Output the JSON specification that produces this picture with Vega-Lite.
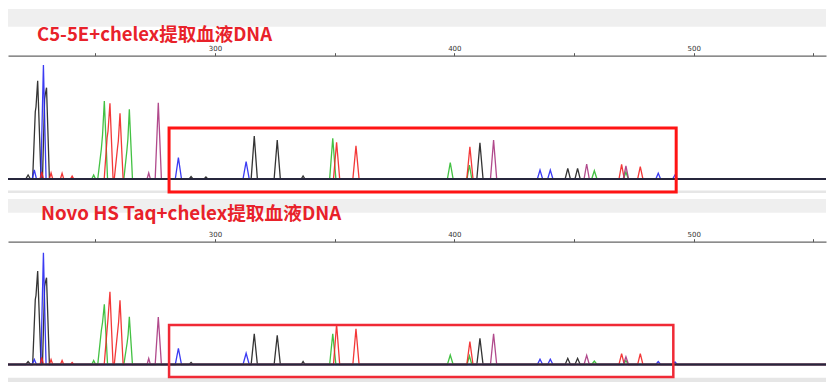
{
"$schema":"https://vega.github.io/schema/vega-lite/v6.json",
"padding":{"left":7,"top":9,"right":8,"bottom":4},
"autosize":{"type":"pad"},
"background":"white",
"spacing":5,
"config":{"view":{"stroke":null},"font":"Noto Sans"},
"datasets":{
"a":[
{"d":"k","x":213.5,"y":0},{"d":"k","x":220.9,"y":0},{"d":"k","x":221.9,"y":200},{"d":"k","x":222.9,"y":0},
{"d":"k","x":223.8,"y":0},{"d":"k","x":224.9,"y":3365},{"d":"k","x":225.2,"y":3600},{"d":"k","x":225.9,"y":4915},{"d":"k","x":227.3,"y":0},
{"d":"k","x":227.9,"y":0},{"d":"k","x":228.8,"y":4000},{"d":"k","x":229.1,"y":4250},{"d":"k","x":229.6,"y":4565},{"d":"k","x":230.8,"y":0},
{"d":"k","x":289.2,"y":0},{"d":"k","x":290.0,"y":125},{"d":"k","x":290.8,"y":0},
{"d":"k","x":295.4,"y":0},{"d":"k","x":296.2,"y":100},{"d":"k","x":297.0,"y":0},
{"d":"k","x":315.1,"y":0},{"d":"k","x":316.4,"y":2150},{"d":"k","x":317.7,"y":0},
{"d":"k","x":324.7,"y":0},{"d":"k","x":326.0,"y":1950},{"d":"k","x":327.3,"y":0},
{"d":"k","x":336.0,"y":0},{"d":"k","x":336.8,"y":150},{"d":"k","x":337.6,"y":0},
{"d":"k","x":409.4,"y":0},{"d":"k","x":410.7,"y":1815},{"d":"k","x":412.0,"y":0},
{"d":"k","x":446.3,"y":0},{"d":"k","x":447.4,"y":535},{"d":"k","x":448.5,"y":0},
{"d":"k","x":450.4,"y":0},{"d":"k","x":451.5,"y":535},{"d":"k","x":452.6,"y":0},
{"d":"k","x":555.3,"y":0},
{"d":"b","x":213.5,"y":0},{"d":"b","x":223.6,"y":0},{"d":"b","x":224.5,"y":450},{"d":"b","x":225.4,"y":0},
{"d":"b","x":227.2,"y":0},{"d":"b","x":228.3,"y":5700},{"d":"b","x":229.4,"y":0},
{"d":"b","x":283.4,"y":0},{"d":"b","x":284.7,"y":1065},{"d":"b","x":286.0,"y":0},
{"d":"b","x":311.7,"y":0},{"d":"b","x":313.0,"y":865},{"d":"b","x":314.3,"y":0},
{"d":"b","x":434.7,"y":0},{"d":"b","x":435.8,"y":450},{"d":"b","x":436.9,"y":0},
{"d":"b","x":439.0,"y":0},{"d":"b","x":440.1,"y":450},{"d":"b","x":441.2,"y":0},
{"d":"b","x":484.2,"y":0},{"d":"b","x":485.2,"y":285},{"d":"b","x":486.2,"y":0},
{"d":"b","x":491.2,"y":0},{"d":"b","x":492.2,"y":200},{"d":"b","x":493.2,"y":0},
{"d":"b","x":555.3,"y":0},
{"d":"g","x":213.5,"y":0},{"d":"g","x":248.5,"y":0},{"d":"g","x":249.3,"y":200},{"d":"g","x":250.1,"y":0},
{"d":"g","x":251.0,"y":0},{"d":"g","x":252.5,"y":1500},{"d":"g","x":253.0,"y":2200},{"d":"g","x":253.75,"y":3900},{"d":"g","x":255.1,"y":0},
{"d":"g","x":261.9,"y":0},{"d":"g","x":263.2,"y":1450},{"d":"g","x":263.6,"y":2000},{"d":"g","x":264.2,"y":3485},{"d":"g","x":265.5,"y":0},
{"d":"g","x":347.9,"y":0},{"d":"g","x":349.2,"y":2035},{"d":"g","x":350.5,"y":0},
{"d":"g","x":397.1,"y":0},{"d":"g","x":398.3,"y":815},{"d":"g","x":399.5,"y":0},
{"d":"g","x":405.3,"y":0},{"d":"g","x":406.3,"y":700},{"d":"g","x":407.3,"y":0},
{"d":"g","x":457.4,"y":0},{"d":"g","x":458.5,"y":415},{"d":"g","x":459.6,"y":0},
{"d":"g","x":470.7,"y":0},{"d":"g","x":471.7,"y":350},{"d":"g","x":472.7,"y":0},
{"d":"g","x":555.3,"y":0},
{"d":"r","x":213.5,"y":0},{"d":"r","x":226.9,"y":0},{"d":"r","x":227.6,"y":350},{"d":"r","x":228.3,"y":0},
{"d":"r","x":230.8,"y":0},{"d":"r","x":231.5,"y":300},{"d":"r","x":232.2,"y":0},
{"d":"r","x":235.4,"y":0},{"d":"r","x":236.1,"y":285},{"d":"r","x":236.8,"y":0},
{"d":"r","x":239.6,"y":0},{"d":"r","x":240.3,"y":150},{"d":"r","x":241.0,"y":0},
{"d":"r","x":253.7,"y":0},{"d":"r","x":254.9,"y":2050},{"d":"r","x":255.3,"y":2400},{"d":"r","x":256.1,"y":3785},{"d":"r","x":257.4,"y":0},
{"d":"r","x":257.9,"y":0},{"d":"r","x":259.3,"y":1600},{"d":"r","x":259.6,"y":1900},{"d":"r","x":260.3,"y":3285},{"d":"r","x":261.6,"y":0},
{"d":"r","x":349.5,"y":0},{"d":"r","x":350.8,"y":1835},{"d":"r","x":352.1,"y":0},
{"d":"r","x":357.6,"y":0},{"d":"r","x":358.9,"y":1665},{"d":"r","x":360.2,"y":0},
{"d":"r","x":405.2,"y":0},{"d":"r","x":406.5,"y":1615},{"d":"r","x":407.8,"y":0},
{"d":"r","x":468.8,"y":0},{"d":"r","x":469.9,"y":735},{"d":"r","x":471.0,"y":0},
{"d":"r","x":476.6,"y":0},{"d":"r","x":477.7,"y":615},{"d":"r","x":478.8,"y":0},
{"d":"r","x":555.3,"y":0},
{"d":"m","x":213.5,"y":0},{"d":"m","x":271.6,"y":0},{"d":"m","x":272.3,"y":300},{"d":"m","x":273.0,"y":0},
{"d":"m","x":275.0,"y":0},{"d":"m","x":276.3,"y":3815},{"d":"m","x":277.6,"y":0},
{"d":"m","x":415.1,"y":0},{"d":"m","x":416.4,"y":1950},{"d":"m","x":417.7,"y":0},
{"d":"m","x":454.2,"y":0},{"d":"m","x":455.3,"y":750},{"d":"m","x":456.4,"y":0},
{"d":"m","x":470.6,"y":0},{"d":"m","x":471.7,"y":650},{"d":"m","x":472.8,"y":0},
{"d":"m","x":555.3,"y":0}
],
"b":[
{"d":"k","x":213.5,"y":0},{"d":"k","x":220.9,"y":0},{"d":"k","x":221.9,"y":150},{"d":"k","x":222.9,"y":0},
{"d":"k","x":223.8,"y":0},{"d":"k","x":224.9,"y":3250},{"d":"k","x":225.2,"y":3450},{"d":"k","x":225.9,"y":4675},{"d":"k","x":227.3,"y":0},
{"d":"k","x":227.9,"y":0},{"d":"k","x":228.8,"y":3900},{"d":"k","x":229.1,"y":4100},{"d":"k","x":229.6,"y":4340},{"d":"k","x":230.8,"y":0},
{"d":"k","x":289.2,"y":0},{"d":"k","x":290.0,"y":100},{"d":"k","x":290.8,"y":0},
{"d":"k","x":315.1,"y":0},{"d":"k","x":316.4,"y":1540},{"d":"k","x":317.7,"y":0},
{"d":"k","x":324.7,"y":0},{"d":"k","x":326.0,"y":1460},{"d":"k","x":327.3,"y":0},
{"d":"k","x":336.0,"y":0},{"d":"k","x":336.8,"y":150},{"d":"k","x":337.6,"y":0},
{"d":"k","x":409.4,"y":0},{"d":"k","x":410.7,"y":1310},{"d":"k","x":412.0,"y":0},
{"d":"k","x":446.3,"y":0},{"d":"k","x":447.4,"y":310},{"d":"k","x":448.5,"y":0},
{"d":"k","x":450.4,"y":0},{"d":"k","x":451.5,"y":310},{"d":"k","x":452.6,"y":0},
{"d":"k","x":555.3,"y":0},
{"d":"b","x":213.5,"y":0},{"d":"b","x":223.6,"y":0},{"d":"b","x":224.5,"y":250},{"d":"b","x":225.4,"y":0},
{"d":"b","x":227.2,"y":0},{"d":"b","x":228.3,"y":5590},{"d":"b","x":229.4,"y":0},
{"d":"b","x":283.4,"y":0},{"d":"b","x":284.7,"y":810},{"d":"b","x":286.0,"y":0},
{"d":"b","x":311.7,"y":0},{"d":"b","x":313.0,"y":560},{"d":"b","x":314.3,"y":0},
{"d":"b","x":434.7,"y":0},{"d":"b","x":435.8,"y":260},{"d":"b","x":436.9,"y":0},
{"d":"b","x":439.0,"y":0},{"d":"b","x":440.1,"y":260},{"d":"b","x":441.2,"y":0},
{"d":"b","x":484.2,"y":0},{"d":"b","x":485.2,"y":150},{"d":"b","x":486.2,"y":0},
{"d":"b","x":491.2,"y":0},{"d":"b","x":492.2,"y":125},{"d":"b","x":493.2,"y":0},
{"d":"b","x":555.3,"y":0},
{"d":"g","x":213.5,"y":0},{"d":"g","x":248.5,"y":0},{"d":"g","x":249.3,"y":200},{"d":"g","x":250.1,"y":0},
{"d":"g","x":251.0,"y":0},{"d":"g","x":252.5,"y":1700},{"d":"g","x":253.0,"y":2100},{"d":"g","x":253.75,"y":3010},{"d":"g","x":255.1,"y":0},
{"d":"g","x":261.9,"y":0},{"d":"g","x":263.3,"y":1100},{"d":"g","x":263.7,"y":1500},{"d":"g","x":264.2,"y":2390},{"d":"g","x":265.5,"y":0},
{"d":"g","x":347.9,"y":0},{"d":"g","x":349.2,"y":1540},{"d":"g","x":350.5,"y":0},
{"d":"g","x":397.1,"y":0},{"d":"g","x":398.3,"y":475},{"d":"g","x":399.5,"y":0},
{"d":"g","x":405.3,"y":0},{"d":"g","x":406.3,"y":425},{"d":"g","x":407.3,"y":0},
{"d":"g","x":457.4,"y":0},{"d":"g","x":458.5,"y":175},{"d":"g","x":459.6,"y":0},
{"d":"g","x":470.7,"y":0},{"d":"g","x":471.7,"y":200},{"d":"g","x":472.7,"y":0},
{"d":"g","x":555.3,"y":0},
{"d":"r","x":213.5,"y":0},{"d":"r","x":226.9,"y":0},{"d":"r","x":227.6,"y":350},{"d":"r","x":228.3,"y":0},
{"d":"r","x":230.8,"y":0},{"d":"r","x":231.5,"y":250},{"d":"r","x":232.2,"y":0},
{"d":"r","x":235.4,"y":0},{"d":"r","x":236.1,"y":200},{"d":"r","x":236.8,"y":0},
{"d":"r","x":239.6,"y":0},{"d":"r","x":240.3,"y":100},{"d":"r","x":241.0,"y":0},
{"d":"r","x":253.7,"y":0},{"d":"r","x":254.9,"y":1750},{"d":"r","x":255.3,"y":2300},{"d":"r","x":256.1,"y":3640},{"d":"r","x":257.4,"y":0},
{"d":"r","x":257.9,"y":0},{"d":"r","x":259.4,"y":1750},{"d":"r","x":259.7,"y":2100},{"d":"r","x":260.3,"y":3210},{"d":"r","x":261.6,"y":0},
{"d":"r","x":349.5,"y":0},{"d":"r","x":350.8,"y":2010},{"d":"r","x":352.1,"y":0},
{"d":"r","x":357.6,"y":0},{"d":"r","x":358.9,"y":1790},{"d":"r","x":360.2,"y":0},
{"d":"r","x":405.2,"y":0},{"d":"r","x":406.5,"y":1140},{"d":"r","x":407.8,"y":0},
{"d":"r","x":468.8,"y":0},{"d":"r","x":469.9,"y":540},{"d":"r","x":471.0,"y":0},
{"d":"r","x":476.6,"y":0},{"d":"r","x":477.7,"y":540},{"d":"r","x":478.8,"y":0},
{"d":"r","x":555.3,"y":0},
{"d":"m","x":213.5,"y":0},{"d":"m","x":271.6,"y":0},{"d":"m","x":272.3,"y":300},{"d":"m","x":273.0,"y":0},
{"d":"m","x":275.0,"y":0},{"d":"m","x":276.3,"y":2375},{"d":"m","x":277.6,"y":0},
{"d":"m","x":415.1,"y":0},{"d":"m","x":416.4,"y":1540},{"d":"m","x":417.7,"y":0},
{"d":"m","x":454.2,"y":0},{"d":"m","x":455.3,"y":460},{"d":"m","x":456.4,"y":0},
{"d":"m","x":470.6,"y":0},{"d":"m","x":471.7,"y":390},{"d":"m","x":472.8,"y":0},
{"d":"m","x":555.3,"y":0}
],
"ta":[{"t":"C5-5E+chelex提取血液DNA","x":225.63,"y":6910}],
"tb":[{"t":"Novo HS Taq+chelex提取血液DNA","x":227.3,"y":7210}]
},
"vconcat":[
{
"width":818,"height":184,
"layer":[
{"data":{"values":[{}]},"mark":{"type":"rect","color":"#efefef"},
 "encoding":{"y":{"datum":7615,"type":"quantitative","scale":{"domain":[-700,8500],"nice":false,"zero":false},"axis":null},"y2":{"datum":8500}}},
{"data":{"values":[{}]},"mark":{"type":"rect","color":"#e6e6e6"},
 "encoding":{"y":{"datum":-700,"type":"quantitative","scale":{"domain":[-700,8500],"nice":false,"zero":false},"axis":null},"y2":{"datum":-575}}},
{"data":{"name":"a"},"mark":{"type":"line","strokeWidth":1.3,"opacity":0.9,"clip":true},
 "encoding":{
  "x":{"field":"x","type":"quantitative","scale":{"domain":[213.5,555.3],"nice":false,"zero":false},
   "axis":{"orient":"top","offset":-46.7,"values":[250,300,350,400,450,500,550],"labelExpr":"datum.value % 100 === 0 ? datum.label : ''","tickSize":3,"domainColor":"#666666","tickColor":"#555555","domainWidth":1.2,"labelFontSize":7,"labelColor":"#333333","labelPadding":1,"labelFont":"DejaVu Sans","grid":false,"title":null,"labelFlush":false,"zindex":1}},
  "y":{"field":"y","type":"quantitative","scale":{"domain":[-700,8500],"nice":false,"zero":false},"axis":null},
  "color":{"field":"d","type":"nominal","scale":{"domain":["k","b","g","r","m"],"range":["#1e1e1e","#2626f2","#2fba2f","#f22222","#a8367f"]},"legend":null}}},
{"data":{"values":[{}]},"mark":{"type":"rule","color":"#26263c","strokeWidth":2},
 "encoding":{"y":{"datum":0,"type":"quantitative","scale":{"domain":[-700,8500],"nice":false,"zero":false},"axis":null}}},
{"data":{"values":[{}]},"mark":{"type":"rect","filled":false,"color":"#ff1414","strokeWidth":3},
 "encoding":{"x":{"datum":280.8,"type":"quantitative","scale":{"domain":[213.5,555.3],"nice":false,"zero":false}},"x2":{"datum":492.7},
  "y":{"datum":2550,"type":"quantitative","scale":{"domain":[-700,8500],"nice":false,"zero":false},"axis":null},"y2":{"datum":-650}}},
{"data":{"name":"ta"},"mark":{"type":"text","align":"left","baseline":"alphabetic","font":"Noto Sans CJK SC","fontSize":18.5,"fontWeight":"bold","color":"#e8222a"},
 "encoding":{"x":{"field":"x","type":"quantitative","scale":{"domain":[213.5,555.3],"nice":false,"zero":false}},
  "y":{"field":"y","type":"quantitative","scale":{"domain":[-700,8500],"nice":false,"zero":false},"axis":null},"text":{"field":"t"}}}
]},
{
"width":818,"height":184,
"layer":[
{"data":{"values":[{}]},"mark":{"type":"rect","color":"#efefef"},
 "encoding":{"y":{"datum":7590,"type":"quantitative","scale":{"domain":[-925,8275],"nice":false,"zero":false},"axis":null},"y2":{"datum":8275}}},
{"data":{"values":[{}]},"mark":{"type":"rect","color":"#e6e6e6"},
 "encoding":{"y":{"datum":-875,"type":"quantitative","scale":{"domain":[-925,8275],"nice":false,"zero":false},"axis":null},"y2":{"datum":-660}}},
{"data":{"name":"b"},"mark":{"type":"line","strokeWidth":1.3,"opacity":0.9,"clip":true},
 "encoding":{
  "x":{"field":"x","type":"quantitative","scale":{"domain":[213.5,555.3],"nice":false,"zero":false},
   "axis":{"orient":"top","offset":-42.7,"values":[250,300,350,400,450,500,550],"labelExpr":"datum.value % 100 === 0 ? datum.label : ''","tickSize":3,"domainColor":"#666666","tickColor":"#555555","domainWidth":1.2,"labelFontSize":7,"labelColor":"#333333","labelPadding":1,"labelFont":"DejaVu Sans","grid":false,"title":null,"labelFlush":false,"zindex":1}},
  "y":{"field":"y","type":"quantitative","scale":{"domain":[-925,8275],"nice":false,"zero":false},"axis":null},
  "color":{"field":"d","type":"nominal","scale":{"domain":["k","b","g","r","m"],"range":["#1e1e1e","#2626f2","#2fba2f","#f22222","#a8367f"]},"legend":null}}},
{"data":{"values":[{}]},"mark":{"type":"rule","color":"#26263c","strokeWidth":2},
 "encoding":{"y":{"datum":0,"type":"quantitative","scale":{"domain":[-925,8275],"nice":false,"zero":false},"axis":null}}},
{"data":{"values":[{}]},"mark":{"type":"rect","filled":false,"color":"#f02a36","strokeWidth":2.5},
 "encoding":{"x":{"datum":280.8,"type":"quantitative","scale":{"domain":[213.5,555.3],"nice":false,"zero":false}},"x2":{"datum":491.5},
  "y":{"datum":1975,"type":"quantitative","scale":{"domain":[-925,8275],"nice":false,"zero":false},"axis":null},"y2":{"datum":-625}}},
{"data":{"name":"tb"},"mark":{"type":"text","align":"left","baseline":"alphabetic","font":"Noto Sans CJK SC","fontSize":18.7,"fontWeight":"bold","color":"#e8222a"},
 "encoding":{"x":{"field":"x","type":"quantitative","scale":{"domain":[213.5,555.3],"nice":false,"zero":false}},
  "y":{"field":"y","type":"quantitative","scale":{"domain":[-925,8275],"nice":false,"zero":false},"axis":null},"text":{"field":"t"}}}
]}
]
}
